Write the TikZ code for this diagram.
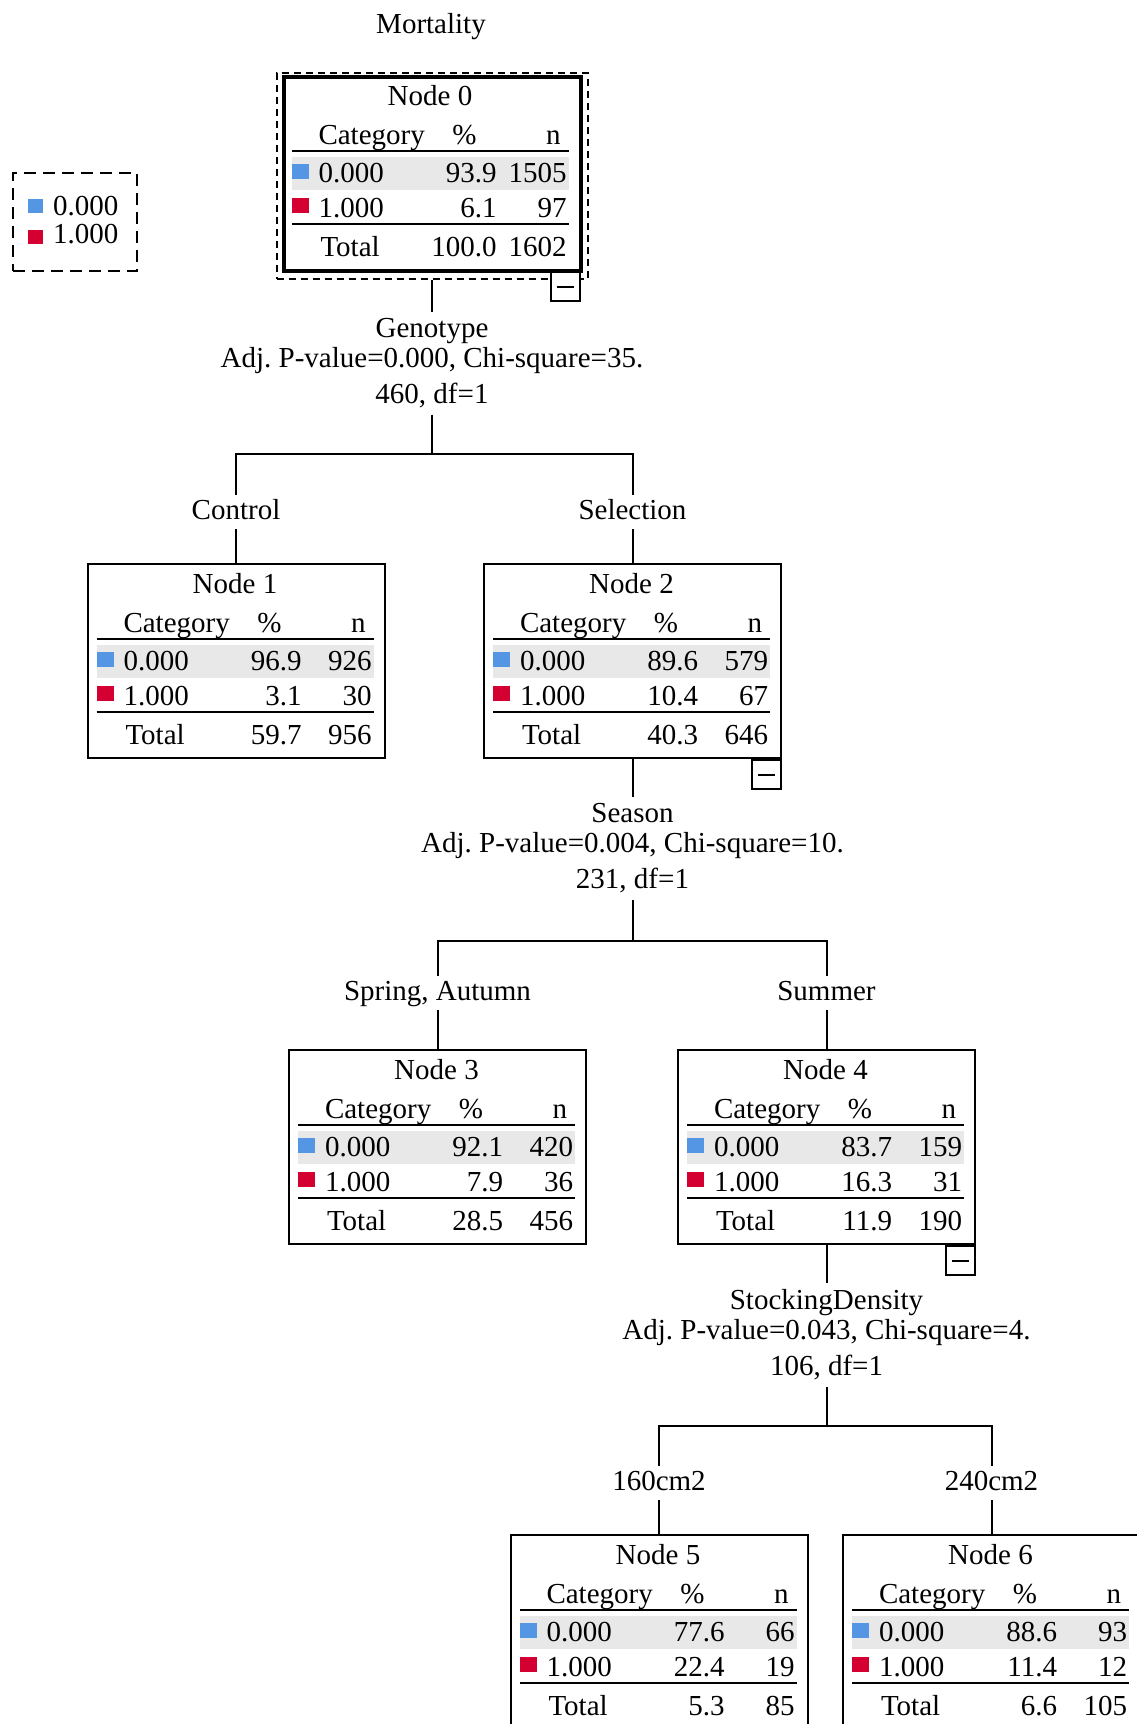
\documentclass[tikz,border=0pt]{standalone}
\usepackage{fontspec}
\setmainfont{Liberation Serif}
\usetikzlibrary{calc}
\frenchspacing

\definecolor{catblue}{RGB}{84,150,228}
\definecolor{catred}{RGB}{213,0,50}
\definecolor{rowgrey}{RGB}{232,232,232}

\tikzset{
  treebox/.style={draw, line width=2pt, minimum width=297pt, minimum height=194pt, inner sep=0pt},
  selbox/.style={draw, line width=2pt, dash pattern=on 7pt off 5pt, minimum width=311pt, minimum height=206pt, inner sep=0pt},
  minusbox/.style={draw, fill=white, line width=2pt, minimum width=29pt, minimum height=29pt, inner sep=0pt,
    path picture={\draw[line width=2pt] ([xshift=-8.5pt]path picture bounding box.center) -- ([xshift=8.5pt]path picture bounding box.center);}},
  cell/.style={inner sep=0pt},
  splitlabel/.style={align=center, inner xsep=2pt, inner ysep=5.5pt, anchor=north},
  branchlabel/.style={anchor=base, text height=20pt, text depth=6pt, inner xsep=2pt, inner ysep=3pt},
  rule/.style={line width=2pt},
  legbox/.style={draw, line width=2pt, dash pattern=on 12pt off 7pt, minimum width=124pt, minimum height=98pt, inner sep=0pt}
}

% category table inside a tree node: name, number, pct/n for 0, pct/n for 1, pct/n total
\newcommand{\cattable}[8]{%
  \begin{scope}[shift={(#1.north west)}]
    \fill[rowgrey] (10,82) rectangle (287,115);
    \fill[catblue] (10,89) rectangle (27,104);
    \fill[catred] (10,123) rectangle (27,138);
    \draw[rule] (10,76) -- (287,76);
    \draw[rule] (10,149) -- (287,149);
    \node[cell, anchor=base] (#1-title) at (148.5,30.5) {Node #2};
    \node[cell, anchor=base west] (#1-cat) at (36,69) {Category};
    \node[cell, anchor=base] (#1-pc) at (183,69) {\%};
    \node[cell, anchor=base east] (#1-n) at (280,69) {n};
    \node[cell, anchor=base west] (#1-c0) at (36,107.5) {0.000};
    \node[cell, anchor=base east] (#1-p0) at (216,107.5) {#3};
    \node[cell, anchor=base east] (#1-n0) at (286,107.5) {#4};
    \node[cell, anchor=base west] (#1-c1) at (36,142) {1.000};
    \node[cell, anchor=base east] (#1-p1) at (216,142) {#5};
    \node[cell, anchor=base east] (#1-n1) at (286,142) {#6};
    \node[cell, anchor=base west] (#1-tot) at (38,181) {Total};
    \node[cell, anchor=base east] (#1-pt) at (216,181) {#7};
    \node[cell, anchor=base east] (#1-nt) at (286,181) {#8};
  \end{scope}}

\begin{document}
\begin{tikzpicture}[x=1pt, y=-1pt, line width=2pt, font=\fontsize{29}{29.5}\selectfont]
  \useasboundingbox (0,0) rectangle (1137,1724);
  \clip (0,0) rectangle (1137,1724);

  % dependent variable
  \node[cell, anchor=base] (resp) at (431,33) {Mortality};

  % legend
  \node[legbox] (leg) at (75,222) {};
  \fill[catblue] (28,199) rectangle (43,213);
  \fill[catred] (28,230) rectangle (43,244);
  \node[cell, anchor=base west] (leg0) at (52,215) {0.000};
  \node[cell, anchor=base west] (leg1) at (52,243) {1.000};

  % tree nodes
  \node[selbox] (n0sel) at (432,176) {};
  \node[minusbox, anchor=north east] (m0) at (580.5,271) {};
  \node[treebox, line width=4pt] (n0) at (432,174) {};
  \node[treebox] (n1) at (236,661) {};
  \node[treebox] (n2) at (632.5,661) {};
  \node[treebox] (n3) at (437.5,1147) {};
  \node[treebox] (n4) at (826.5,1147) {};
  \node[treebox] (n5) at (659,1632) {};
  \node[treebox] (n6) at (991.5,1632) {};
  \node[minusbox, anchor=north east] (m2) at (n2.south east) {};
  \node[minusbox, anchor=north east] (m4) at (n4.south east) {};

  \cattable{n0}{0}{93.9}{1505}{6.1}{97}{100.0}{1602}
  \cattable{n1}{1}{96.9}{926}{3.1}{30}{59.7}{956}
  \cattable{n2}{2}{89.6}{579}{10.4}{67}{40.3}{646}
  \cattable{n3}{3}{92.1}{420}{7.9}{36}{28.5}{456}
  \cattable{n4}{4}{83.7}{159}{16.3}{31}{11.9}{190}
  \cattable{n5}{5}{77.6}{66}{22.4}{19}{5.3}{85}
  \cattable{n6}{6}{88.6}{93}{11.4}{12}{6.6}{105}

  % split labels
  \node[splitlabel] (s0) at (432,312) {Genotype\\Adj. P-value=0.000, Chi-square=35.\\[7pt]460, df=1};
  \node[splitlabel] (s2) at (632.5,797) {Season\\Adj. P-value=0.004, Chi-square=10.\\[7pt]231, df=1};
  \node[splitlabel] (s4) at (826.5,1283) {StockingDensity\\Adj. P-value=0.043, Chi-square=4.\\[7pt]106, df=1};

  \coordinate (b0) at (432,454);
  \coordinate (b2) at (632.5,941);
  \coordinate (b4) at (826.5,1426);

  % branch labels
  \node[branchlabel] (c1) at (236,519) {Control};
  \node[branchlabel] (c2) at (632.5,519) {Selection};
  \node[branchlabel] (c3) at (437.5,1000) {Spring, Autumn};
  \node[branchlabel] (c4) at (826.5,1000) {Summer};
  \node[branchlabel] (c5) at (659,1490) {160cm2};
  \node[branchlabel] (c6) at (991.5,1490) {240cm2};

  % connectors
  \draw (n0sel.south) -- (s0.north);
  \draw (s0.south) -- (b0);
  \draw (c1.north) |- (b0) -| (c2.north);
  \draw (c1.south) -- (n1.north);
  \draw (c2.south) -- (n2.north);

  \draw (n2.south) -- (s2.north);
  \draw (s2.south) -- (b2);
  \draw (c3.north) |- (b2) -| (c4.north);
  \draw (c3.south) -- (n3.north);
  \draw (c4.south) -- (n4.north);

  \draw (n4.south) -- (s4.north);
  \draw (s4.south) -- (b4);
  \draw (c5.north) |- (b4) -| (c6.north);
  \draw (c5.south) -- (n5.north);
  \draw (c6.south) -- (n6.north);
\end{tikzpicture}
\end{document}
